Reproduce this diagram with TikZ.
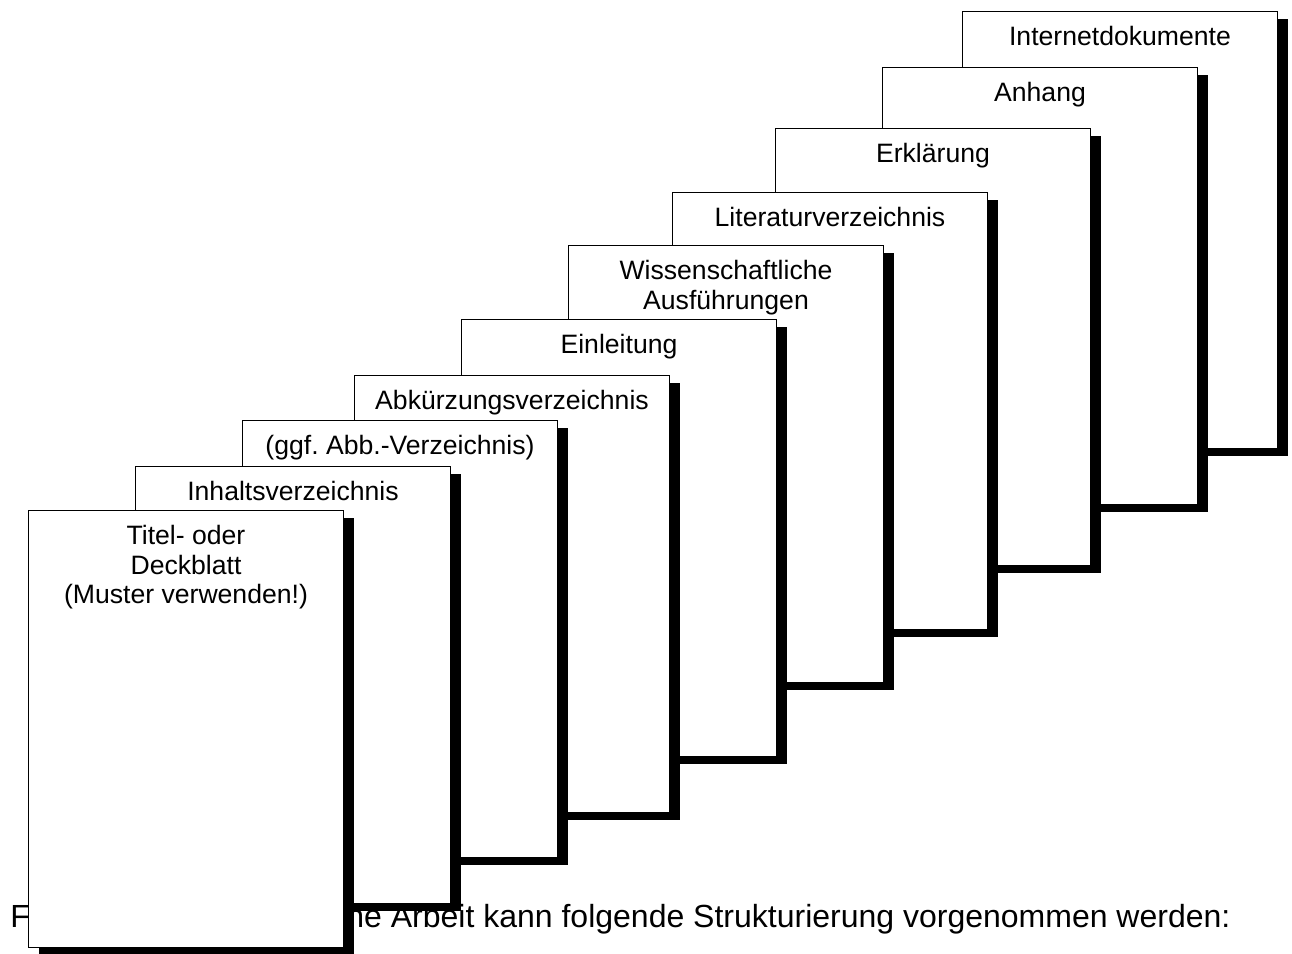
\documentclass[tikz,border=0pt]{standalone}
\usepackage{fontspec}
\setmainfont{Liberation Sans}
\usetikzlibrary{shadows}
\frenchspacing
\newcommand\blatt[4]{\node[blatt] (#1) at (#2,#3) {}; \node[blabel] (#1-titel) at ([yshift=-7.5pt]#1.north) {#4};}

\begin{document}
\begin{tikzpicture}[x=0.5pt,y=-0.5pt]
\tikzstyle{blatt}=[draw,fill=white,line width=0.5pt,anchor=north west,inner sep=0pt,minimum width=157.5pt,minimum height=218.5pt,drop shadow={shadow xshift=5pt,shadow yshift=-3.75pt,fill=black,opacity=1}]
\tikzstyle{blabel}=[anchor=north,inner sep=0pt,align=center,font=\fontsize{13.3pt}{14.8pt}\selectfont]
\tikzstyle{satz}=[inner sep=0pt,font=\fontsize{16pt}{18pt}\selectfont]
\useasboundingbox (0,0) rectangle (1292,954);

%% Satz hinter den Blaettern
\node[satz,anchor=base west] (satz-a) at (10,927) {F};
\node[satz,anchor=base west] (satz-b) at (346,927) {ne Arbeit kann folgende Strukturierung vorgenommen werden:};

%% Blaetter, von hinten nach vorne
\blatt{internet}{962}{11}{Internetdokumente}
\blatt{anhang}{882}{67}{Anhang}
\blatt{erklaerung}{775}{128}{Erklärung}
\blatt{litverz}{672}{192}{Literaturverzeichnis}
\blatt{ausfuehrung}{568}{245}{Wissenschaftliche\\Ausführungen}
\blatt{einleitung}{461}{319}{Einleitung}
\blatt{abkverz}{354}{375}{Abkürzungsverzeichnis}
\blatt{abbverz}{242}{420}{(ggf. Abb.-Verzeichnis)}
\blatt{inhalt}{135}{466}{Inhaltsverzeichnis}
\blatt{titel}{28}{510}{Titel- oder\\Deckblatt\\(Muster verwenden!)}
\end{tikzpicture}
\end{document}
